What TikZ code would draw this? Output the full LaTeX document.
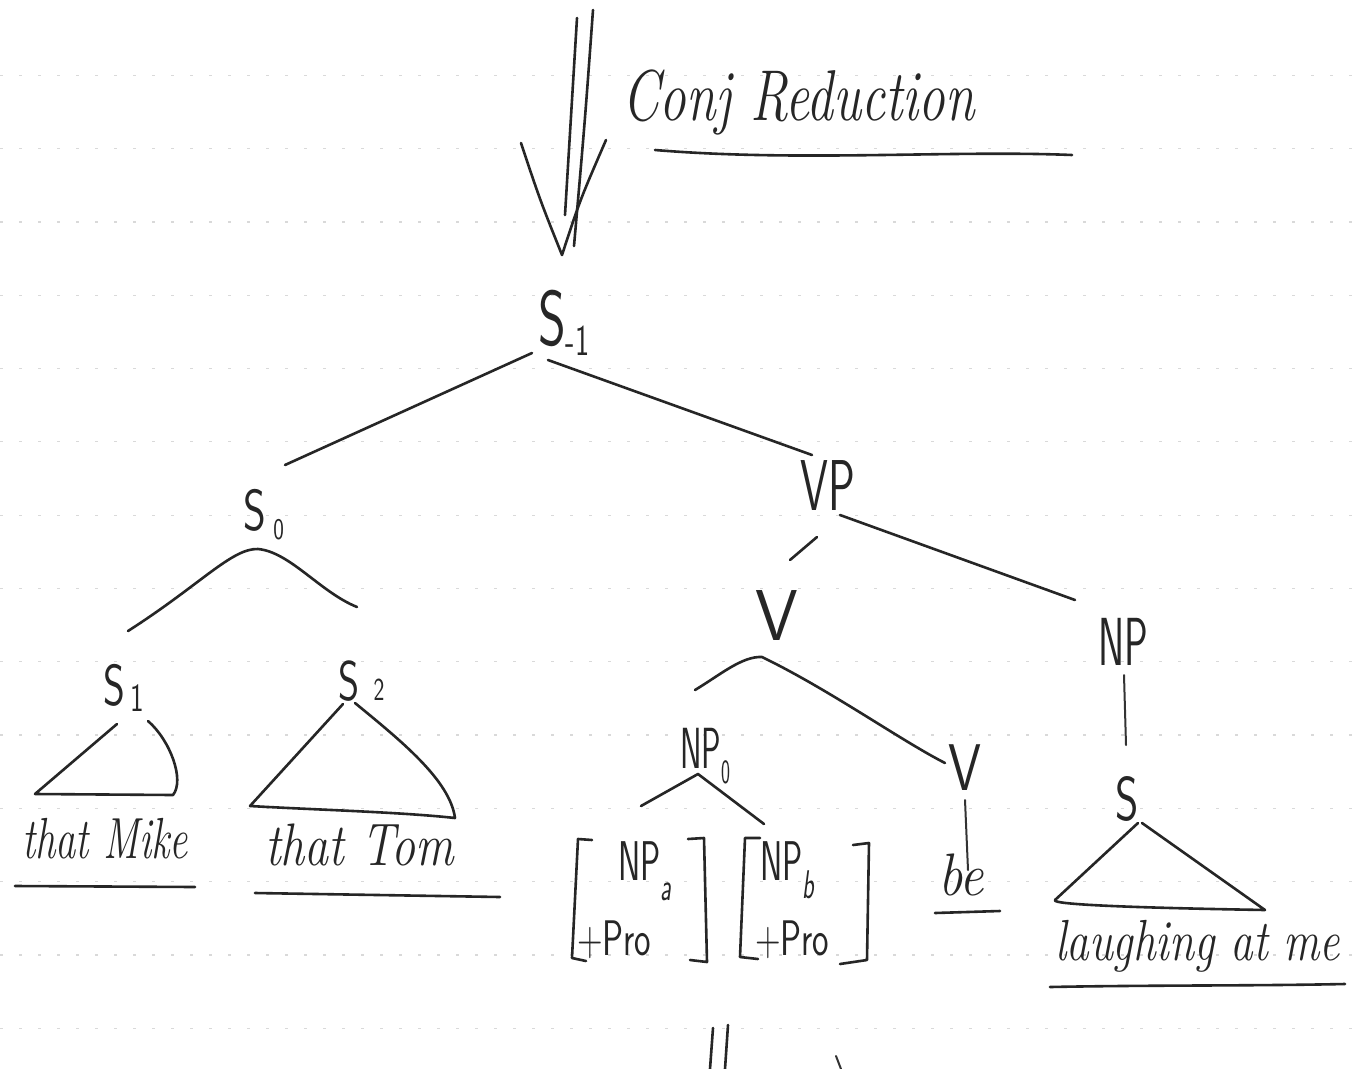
\documentclass[tikz,border=0pt]{standalone}
\usepackage{graphicx}
\usetikzlibrary{calc}

% horizontally condensed hand lettering: scale, size, text
\newcommand{\hand}[3]{\scalebox{#1}[1]{\fontsize{#2}{#2}\selectfont#3}}
% lowered subscript: drop, size, text
\newcommand{\handsub}[3]{\raisebox{-#1pt}{\fontsize{#2}{#2}\selectfont#3}}

\tikzset{
  pen/.style={line width=2.6pt, draw=black!85, line cap=round, line join=round},
  thinpen/.style={line width=2pt, draw=black!80, line cap=round, line join=round},
  ruling/.style={line width=1.2pt, draw=black!15, dash pattern=on 3pt off 16pt},
  cat/.style={inner sep=0pt, anchor=base west, text=black!85, font=\sffamily},
  word/.style={inner sep=0pt, anchor=base west, text=black!85, font=\itshape},
}

\begin{document}
\begin{tikzpicture}[x=1pt,y=-1pt]
\useasboundingbox (0,0) rectangle (1353,1069);
\fill[white] (0,0) rectangle (1353,1069);

% faint ruled lines of the sheet
\foreach \k in {1,...,14}
  \draw[ruling] (0,{2+73.3*\k}) -- (1353,{2+73.3*\k});

% ---------- heading ----------
\node[word] (conj) at (622,120) {\hand{0.74}{72}{Conj Reduction}};
\draw[pen] ($(conj.base west)+(33,30)$) .. controls (800,162) and (950,150) .. (1072,155);

% ---------- category labels ----------
\node[cat] (Sm1) at (538,345) {\hand{0.68}{78}{S\handsub{10}{44}{-1}}};
\node[cat] (S0)  at (243,530) {\hand{0.75}{58}{S\hspace{10pt}\handsub{9}{30}{0}}};
\node[cat] (VP)  at (800,510) {\hand{0.62}{72}{VP}};
\node[cat] (S1)  at (103,705) {\hand{0.72}{58}{S\hspace{8pt}\handsub{6}{40}{1}}};
\node[cat] (S2)  at (338,700) {\hand{0.72}{56}{S\hspace{20pt}\handsub{0}{32}{2}}};
\node[cat] (V)   at (755,640) {\hand{0.95}{72}{V}};
\node[cat] (NPr) at (1098,665) {\hand{0.58}{68}{NP}};
\node[cat] (NP0) at (680,768) {\hand{0.56}{58}{NP\handsub{15}{34}{0}}};
\node[cat] (V2)  at (948,790) {\hand{0.8}{66}{V}};
\node[cat] (Sb)  at (1115,820) {\hand{0.72}{62}{S}};

% bracketed feature bundles
\node[cat] (NPa)  at (618,880) {\hand{0.6}{56}{NP\handsub{20}{40}{\itshape a}}};
\node[cat] (Proa) at (577,955) {\hand{0.7}{50}{+Pro}};
\node[cat] (NPb)  at (760,880) {\hand{0.6}{56}{NP\handsub{18}{40}{\itshape b}}};
\node[cat] (Prob) at (755,955) {\hand{0.7}{50}{+Pro}};

% ---------- terminal strings ----------
\node[word] (mike)  at (22,858)   {\hand{0.7}{58}{that Mike}};
\node[word] (tom)   at (265,865)  {\hand{0.8}{60}{that Tom}};
\node[word] (be)    at (938,895)  {\hand{0.9}{60}{be}};
\node[word] (laugh) at (1055,960) {\hand{0.78}{58}{laughing at me}};

% underlines
\draw[pen] ($(mike.base west)+(-7,28)$) -- ($(mike.base west)+(173,29)$);
\draw[pen] ($(tom.base west)+(-10,28)$) -- ($(tom.base west)+(235,32)$);
\draw[pen] ($(be.base west)+(-3,18)$) -- ($(be.base west)+(62,16)$);
\draw[pen] ($(laugh.base west)+(-5,27)$) .. controls (1150,985) and (1250,986) .. ($(laugh.base west)+(290,24)$);

% ---------- double arrow into the root ----------
\coordinate (tip) at ($(Sm1.base west)+(24,-90)$);
\draw[pen] (577,18) .. controls (572,100) .. (565,215);
\draw[pen] (593,10) .. controls (585,120) .. (574,246);
\draw[pen] (521,143) .. controls (540,200) .. (tip) .. controls (580,200) .. (606,140);

% ---------- branches ----------
\draw[pen] ($(Sm1.base west)+(-6,8)$) -- ($(S0.base west)+(42,-65)$);
\draw[pen] ($(Sm1.base west)+(10,15)$) -- ($(VP.base west)+(12,-55)$);

\draw[pen] ($(S1.base west)+(25,-74)$) .. controls (200,585) and (232,548) .. ($(S0.base west)+(15,19)$)
           .. controls (290,552) and (320,592) .. ($(S2.base west)+(19,-93)$);

\draw[pen] ($(V.base west)+(35,-80)$) -- ($(VP.base west)+(17,27)$);
\draw[pen] ($(VP.base west)+(40,5)$) -- ($(NPr.base west)+(-23,-65)$);

\draw[pen] ($(NP0.base west)+(15,-78)$) .. controls (720,675) and (742,656) .. ($(V.base west)+(7,17)$)
           .. controls (830,690) and (900,740) .. ($(V2.base west)+(-3,-27)$);

\draw[pen] ($(NPa.base west)+(23,-74)$) -- ($(NP0.base west)+(18,6)$) -- ($(NPb.base west)+(4,-56)$);

\draw[thinpen] ($(V2.base west)+(17,10)$) -- ($(be.base west)+(30,-25)$);
\draw[thinpen] ($(NPr.base west)+(26,10)$) -- ($(Sb.base west)+(11,-75)$);

% ---------- triangles ----------
\draw[pen] ($(S1.base west)+(14,19)$) -- ($(mike.base west)+(13,-64)$)
           -- ($(mike.base west)+(151,-63)$)
           .. controls (185,780) and (170,740) .. ($(S1.base west)+(45,16)$);
\draw[pen] ($(S2.base west)+(5,4)$) -- ($(tom.base west)+(-15,-59)$)
           .. controls (320,810) and (400,812) .. ($(tom.base west)+(190,-47)$)
           .. controls (450,780) and (400,740) .. ($(S2.base west)+(17,3)$);
\draw[pen] ($(Sb.base west)+(23,3)$) -- ($(laugh.base west)+(0,-60)$)
           .. controls (1050,905) and (1150,908) .. ($(laugh.base west)+(210,-50)$)
           -- ($(Sb.base west)+(27,3)$);

% ---------- brackets ----------
\draw[pen] (592,840) -- (578,839) -- (572,958) -- (586,961);
\draw[pen] (688,839) -- (704,838) -- (707,962) -- (690,960);
\draw[pen] (760,838) -- (745,838) -- (740,957) -- (758,959);
\draw[pen] (853,845) -- (869,843) -- (867,960) -- (840,964);

% ---------- marks at the foot ----------
\draw[pen] (713,1028) -- (710,1069);
\draw[pen] (728,1025) -- (725,1069);
\draw[thinpen] (836,1056) -- (841,1069);
\end{tikzpicture}
\end{document}
